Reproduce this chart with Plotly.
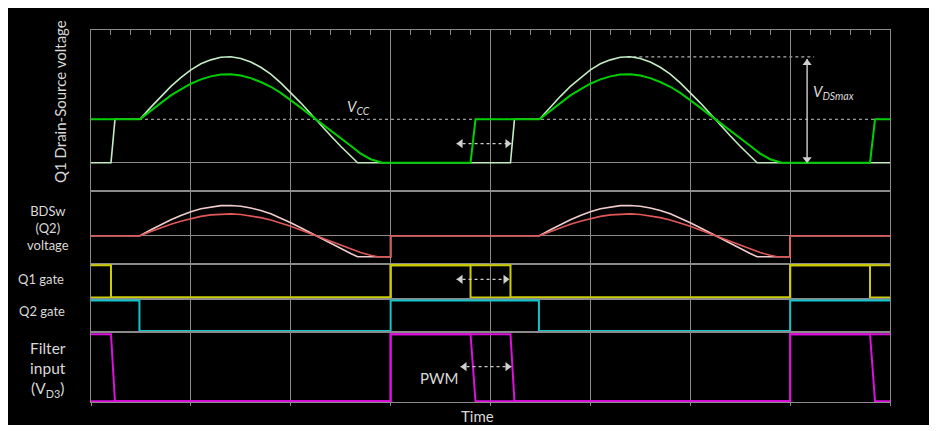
import plotly.graph_objects as go

# ---------------- data (time in divisions, amplitudes in normalised units) ----------------
# Q1 drain-source voltage (units of Vcc) - pale trace (long PWM) and green trace (short PWM)
vds_pale_t = [0, 0.20, 0.24, 0.49, 0.6, 0.7, 0.8, 0.9, 1.0, 1.1, 1.2, 1.3, 1.4, 1.5, 1.6, 1.7, 1.8, 1.9,
              2.0, 2.1, 2.2, 2.3, 2.4, 2.5, 2.6, 2.67,
              4.20, 4.24, 4.49, 4.6, 4.7, 4.8, 4.9, 5.0, 5.1, 5.2, 5.3, 5.4, 5.5, 5.6, 5.7, 5.8, 5.9,
              6.0, 6.1, 6.2, 6.3, 6.4, 6.5, 6.6, 6.67, 8.0]
vds_pale_v = [0, 0, 1, 1, 1.28, 1.53, 1.76, 1.96, 2.14, 2.28, 2.37, 2.43, 2.44, 2.40, 2.32, 2.20, 2.04, 1.84,
              1.62, 1.38, 1.13, 0.87, 0.62, 0.38, 0.15, 0,
              0, 1, 1, 1.28, 1.53, 1.76, 1.96, 2.14, 2.28, 2.37, 2.43, 2.44, 2.40, 2.32, 2.20, 2.04, 1.84,
              1.62, 1.38, 1.13, 0.87, 0.62, 0.38, 0.15, 0, 0]
vds_green_t = [0, 0.49, 0.6, 0.7, 0.8, 0.9, 1.0, 1.1, 1.2, 1.3, 1.4, 1.5, 1.6, 1.7, 1.8, 1.9,
               2.0, 2.1, 2.2, 2.3, 2.4, 2.5, 2.6, 2.7, 2.8, 2.9, 2.91,
               3.80, 3.85, 4.49, 4.6, 4.7, 4.8, 4.9, 5.0, 5.1, 5.2, 5.3, 5.4, 5.5, 5.6, 5.7, 5.8, 5.9,
               6.0, 6.1, 6.2, 6.3, 6.4, 6.5, 6.6, 6.7, 6.8, 6.9, 6.91, 7.80, 7.85, 8.0]
vds_green_v = [1, 1, 1.20, 1.38, 1.55, 1.69, 1.82, 1.92, 1.99, 2.03, 2.04, 2.01, 1.95, 1.86, 1.75, 1.61,
               1.45, 1.27, 1.09, 0.92, 0.75, 0.58, 0.39, 0.21, 0.08, 0.01, 0,
               0, 1, 1, 1.20, 1.38, 1.55, 1.69, 1.82, 1.92, 1.99, 2.03, 2.04, 2.01, 1.95, 1.86, 1.75, 1.61,
               1.45, 1.27, 1.09, 0.92, 0.75, 0.58, 0.39, 0.21, 0.08, 0.01, 0, 0, 1, 1]

# BDSw (Q2) voltage (units of Vcc)
bdsw_pale_t = [0, 0.49, 0.6, 0.7, 0.8, 0.9, 1.0, 1.1, 1.2, 1.3, 1.4, 1.5, 1.6, 1.7, 1.8, 1.9,
               2.0, 2.1, 2.2, 2.3, 2.4, 2.5, 2.6, 2.67, 3.0, 3.0,
               4.49, 4.6, 4.7, 4.8, 4.9, 5.0, 5.1, 5.2, 5.3, 5.4, 5.5, 5.6, 5.7, 5.8, 5.9,
               6.0, 6.1, 6.2, 6.3, 6.4, 6.5, 6.6, 6.67, 7.0, 7.0, 8.0]
bdsw_pale_v = [0, 0, 0.28, 0.53, 0.76, 0.96, 1.14, 1.28, 1.37, 1.43, 1.44, 1.40, 1.32, 1.20, 1.04, 0.84,
               0.62, 0.38, 0.13, -0.13, -0.38, -0.62, -0.85, -1, -1, 0,
               0, 0.28, 0.53, 0.76, 0.96, 1.14, 1.28, 1.37, 1.43, 1.44, 1.40, 1.32, 1.20, 1.04, 0.84,
               0.62, 0.38, 0.13, -0.13, -0.38, -0.62, -0.85, -1, -1, 0, 0]
bdsw_red_t = [0, 0.49, 0.6, 0.7, 0.8, 0.9, 1.0, 1.1, 1.2, 1.3, 1.4, 1.5, 1.6, 1.7, 1.8, 1.9,
              2.0, 2.1, 2.2, 2.3, 2.4, 2.5, 2.6, 2.7, 2.8, 2.87, 3.0, 3.0,
              4.49, 4.6, 4.7, 4.8, 4.9, 5.0, 5.1, 5.2, 5.3, 5.4, 5.5, 5.6, 5.7, 5.8, 5.9,
              6.0, 6.1, 6.2, 6.3, 6.4, 6.5, 6.6, 6.7, 6.8, 6.87, 7.0, 7.0, 8.0]
bdsw_red_v = [0, 0, 0.20, 0.38, 0.55, 0.69, 0.82, 0.92, 0.99, 1.03, 1.04, 1.01, 0.95, 0.86, 0.75, 0.61,
              0.45, 0.27, 0.09, -0.08, -0.25, -0.43, -0.62, -0.80, -0.93, -1, -1, 0,
              0, 0.20, 0.38, 0.55, 0.69, 0.82, 0.92, 0.99, 1.03, 1.04, 1.01, 0.95, 0.86, 0.75, 0.61,
              0.45, 0.27, 0.09, -0.08, -0.25, -0.43, -0.62, -0.80, -0.93, -1, -1, 0, 0]

# gate signals (0 = low, 1 = high)
q1_gate_long_t = [0, 0.20, 0.20, 3.0, 3.0, 4.20, 4.20, 7.0, 7.0, 8.0]
q1_gate_long_v = [1, 1, 0, 0, 1, 1, 0, 0, 1, 1]
q1_gate_short_t = [0, 3.0, 3.0, 3.80, 3.80, 7.0, 7.0, 7.80, 7.80, 8.0]
q1_gate_short_v = [0, 0, 1, 1, 0, 0, 1, 1, 0, 0]
q2_gate_t = [0, 0.485, 0.485, 3.0, 3.0, 4.485, 4.485, 7.0, 7.0, 8.0]
q2_gate_v = [1, 1, 0, 0, 1, 1, 0, 0, 1, 1]

# filter input V_D3 (0 = low, 1 = high)
vd3_long_t = [0, 0.20, 0.24, 3.0, 3.0, 4.20, 4.24, 7.0, 7.0, 8.0]
vd3_long_v = [1, 1, 0, 0, 1, 1, 0, 0, 1, 1]
vd3_short_t = [0, 3.0, 3.0, 3.80, 3.85, 7.0, 7.0, 7.80, 7.85, 8.0]
vd3_short_v = [0, 0, 1, 1, 0, 0, 1, 1, 0, 0]

# reference levels
vcc_level = 1.0
vds_max_level = 2.44

# ---------------- figure ----------------
# the page body adds an 8 px margin; figure occupies page pixels (8,8)-(937,425)
OFF = 8
W, H = 929, 417
L, R, T, B = 91, 890, 30, 402   # plot area in page pixels


def px(x):
    return (x - L) / (R - L)


def py(y):
    return (B - y) / (B - T)


GRID = "#8a8a8a"
TXT = "#d9d9d9"
FONT = "Lato"

fig = go.Figure()


def line(t, v, color, width, ax):
    fig.add_trace(go.Scatter(x=t, y=v, mode="lines", line=dict(color=color, width=width),
                             xaxis="x" + ("" if ax == 1 else str(ax)),
                             yaxis="y" + ("" if ax == 1 else str(ax)),
                             hoverinfo="skip", showlegend=False))


line(vds_pale_t, vds_pale_v, "#c4ecc4", 1.6, 1)
line(vds_green_t, vds_green_v, "#00d000", 2, 1)
line(bdsw_pale_t, bdsw_pale_v, "#f0cccc", 1.6, 2)
line(bdsw_red_t, bdsw_red_v, "#e25858", 1.6, 2)
line(q1_gate_long_t, q1_gate_long_v, "#cccc00", 2, 3)
line(q1_gate_short_t, q1_gate_short_v, "#cccc00", 2, 3)
line(q2_gate_t, q2_gate_v, "#12c4cc", 2, 4)
line(vd3_long_t, vd3_long_v, "#dd10dd", 2, 5)
line(vd3_short_t, vd3_short_v, "#dd10dd", 2, 5)

ARW = "#d0d0d0"


def harrow(x0, x1, y, h0, h1, ax):
    xa = "x" + ("" if ax == 1 else str(ax))
    ya = "y" + ("" if ax == 1 else str(ax))
    fig.add_trace(go.Scatter(x=[x0, x1], y=[y, y], mode="lines", line=dict(color=ARW, width=1.2, dash="dot"),
                             xaxis=xa, yaxis=ya, hoverinfo="skip", showlegend=False))
    fig.add_trace(go.Scatter(x=[h0, h1], y=[y, y], mode="markers",
                             marker=dict(symbol=["triangle-left", "triangle-right"], size=8, color=ARW,
                                         line=dict(width=0)),
                             xaxis=xa, yaxis=ya, hoverinfo="skip", showlegend=False))


harrow(3.66, 4.21, 0.44, 3.70, 4.17, 1)
harrow(3.66, 4.19, 0.565, 3.70, 4.15, 3)
harrow(3.70, 4.21, 0.516, 3.74, 4.17, 5)

# V_DSmax vertical arrow
fig.add_trace(go.Scatter(x=[7.17, 7.17], y=[vds_max_level - 0.05, 0.05], mode="lines",
                         line=dict(color=ARW, width=1.4), hoverinfo="skip", showlegend=False))
fig.add_trace(go.Scatter(x=[7.17, 7.17], y=[2.30, 0.08], mode="markers",
                         marker=dict(symbol=["triangle-up", "triangle-down"], size=8, color=ARW,
                                     line=dict(width=0)), hoverinfo="skip", showlegend=False))

shapes = [
    dict(type="line", xref="x", yref="y", x0=0, x1=8, y0=vcc_level, y1=vcc_level,
         line=dict(color="#9a9a9a", width=1.2, dash="dot"), layer="below"),
    dict(type="line", xref="x", yref="y", x0=5.37, x1=7.24, y0=vds_max_level, y1=vds_max_level,
         line=dict(color="#b0b0b0", width=1.2, dash="dot"), layer="below"),
]

rows = [
    ([py(190.7), 1.0], [-0.645, 3.058], True),
    ([py(263.5), py(190.7)], [-1.324, 2.143], True),
    ([py(299.0), py(263.5)], [-0.047, 1.056], False),
    ([py(332.3), py(299.0)], [-0.043, 1.049], False),
    ([0.0, py(332.3)], [-0.0104, 1.028], False),
]

layout = dict(
    width=W, height=H,
    margin=dict(l=L - OFF, r=W - (R - OFF), t=T - OFF, b=H - (B - OFF), pad=0),
    paper_bgcolor="black", plot_bgcolor="black",
    showlegend=False,
    shapes=shapes,
)

for i, (dom, rng, zl) in enumerate(rows, start=1):
    sfx = "" if i == 1 else str(i)
    xa = dict(domain=[0, 1], range=[0, 8], anchor="y" + sfx, showgrid=True, gridcolor=GRID, gridwidth=1,
              dtick=1, tick0=0, zeroline=False, showline=True, linecolor=GRID, linewidth=1, mirror=True,
              showticklabels=False, ticks="")
    if i > 1:
        xa["matches"] = "x"
    if i == 1:
        xa.update(side="top", ticks="inside", ticklen=5, tickcolor=GRID, tickwidth=1,
                  minor=dict(ticks="inside", ticklen=5, dtick=0.2, tickcolor=GRID, showgrid=False))
    if i == 5:
        xa.update(ticks="outside", ticklen=3, tickcolor=GRID)
    ya = dict(domain=dom, range=rng, anchor="x" + sfx, showgrid=False, zeroline=zl, zerolinecolor=GRID,
              zerolinewidth=1, showline=True, linecolor=GRID, linewidth=1, mirror=True,
              showticklabels=False, ticks="")
    layout["xaxis" + sfx] = xa
    layout["yaxis" + sfx] = ya


def ann(text, x, y, size, angle=0, italic=False, yanchor="middle"):
    return dict(text=text, xref="paper", yref="paper", x=px(x), y=py(y), xanchor="center", yanchor=yanchor,
                showarrow=False, textangle=angle,
                font=dict(family=FONT, size=size, color=TXT, style="italic" if italic else "normal"))


layout["annotations"] = [
    ann("Q1 Drain-Source voltage", 60, 102, 15, angle=-90),
    ann("BDSw<br>(Q2)<br>voltage", 48, 228, 13),
    ann("Q1 gate", 41, 279, 13),
    ann("Q2 gate", 42, 311, 13),
    ann("Filter<br>input<br>(V<sub>D3</sub>)", 48, 369.5, 15.5),
    ann("Time", 477.5, 427, 15, yanchor="bottom"),
    ann("V<sub>CC</sub>", 358, 107, 15, italic=True),
    ann("V<sub>DSmax</sub>", 833, 92, 15, italic=True),
    ann("PWM", 439, 378, 15),
]

fig.update_layout(**layout)
fig.write_html("out.html")
